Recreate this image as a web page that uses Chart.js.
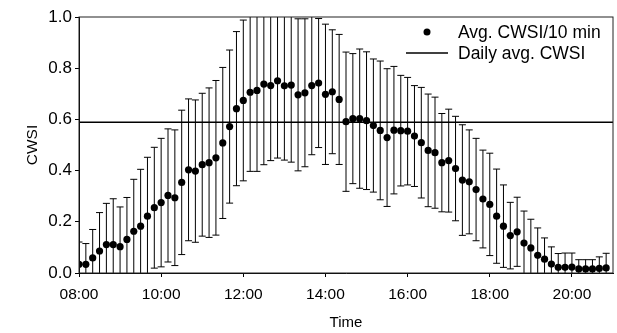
<!DOCTYPE html>
<html>
<head>
<meta charset="utf-8">
<script src="https://cdn.jsdelivr.net/npm/chart.js@4.4.1/dist/chart.umd.min.js"></script>
<style>
  html, body { margin: 0; padding: 0; background: #fff; }
  #wrap { width: 617px; height: 333px; }
</style>
</head>
<body>
<div id="wrap"><canvas id="cwsi" width="617" height="333"></canvas></div>
<script>
// ---- Data ----
const times = [
  '08:00','08:10','08:20','08:30','08:40','08:50','09:00','09:10','09:20','09:30',
  '09:40','09:50','10:00','10:10','10:20','10:30','10:40','10:50','11:00','11:10',
  '11:20','11:30','11:40','11:50','12:00','12:10','12:20','12:30','12:40','12:50',
  '13:00','13:10','13:20','13:30','13:40','13:50','14:00','14:10','14:20','14:30',
  '14:40','14:50','15:00','15:10','15:20','15:30','15:40','15:50','16:00','16:10',
  '16:20','16:30','16:40','16:50','17:00','17:10','17:20','17:30','17:40','17:50',
  '18:00','18:10','18:20','18:30','18:40','18:50','19:00','19:10','19:20','19:30',
  '19:40','19:50','20:00','20:10','20:20','20:30','20:40','20:50'
];
const cwsiMean = [
  0.034,0.034,0.059,0.086,0.111,0.111,0.103,0.131,0.163,0.183,
  0.222,0.255,0.275,0.303,0.294,0.354,0.403,0.398,0.423,0.431,
  0.450,0.508,0.572,0.642,0.674,0.706,0.713,0.738,0.732,0.751,
  0.731,0.734,0.696,0.704,0.732,0.742,0.698,0.708,0.678,0.591,
  0.603,0.603,0.595,0.576,0.557,0.529,0.558,0.556,0.554,0.535,
  0.509,0.479,0.470,0.431,0.439,0.408,0.363,0.356,0.326,0.289,
  0.268,0.222,0.183,0.146,0.161,0.117,0.098,0.069,0.054,0.035,
  0.022,0.022,0.023,0.016,0.016,0.016,0.018,0.020
];
const cwsiErr = [
  0.087,0.081,0.111,0.150,0.161,0.179,0.155,0.164,0.203,0.222,
  0.230,0.236,0.251,0.260,0.265,0.282,0.277,0.278,0.279,0.292,
  0.302,0.295,0.299,0.301,0.314,0.309,0.316,0.315,0.293,0.302,
  0.290,0.301,0.297,0.289,0.270,0.252,0.274,0.242,0.254,0.272,
  0.254,0.272,0.269,0.260,0.271,0.269,0.249,0.216,0.210,0.197,
  0.216,0.220,0.217,0.192,0.201,0.204,0.216,0.203,0.200,0.191,
  0.200,0.184,0.161,0.130,0.135,0.125,0.112,0.107,0.083,0.067,
  0.054,0.056,0.055,0.036,0.036,0.036,0.045,0.057
];
const dailyAvg = [0.589];
const xRange = ['08:00', '21:00'];
const xTickLabels = ['08:00', '10:00', '12:00', '14:00', '16:00', '18:00', '20:00'];
const yTicks = [0.0, 0.2, 0.4, 0.6, 0.8, 1.0];

(function() {
  const FONT = "'Liberation Sans', Arial, sans-serif";
  const toMin = t => { const p = t.split(':'); return (+p[0]) * 60 + (+p[1]); };
  const fmt = m => String(Math.floor(m / 60)).padStart(2, '0') + ':' + String(m % 60).padStart(2, '0');

  const xMin = toMin(xRange[0]);
  const xMax = toMin(xRange[1]);

  const points = times.map((t, i) => ({ x: toMin(t), y: cwsiMean[i], e: cwsiErr[i] }));

  // ---- Error bars, clipped to plot area ----
  const errorBars = {
    id: 'errorBars',
    beforeDatasetsDraw(chart) {
      const { ctx, chartArea, scales: { x, y } } = chart;
      ctx.save();
      ctx.beginPath();
      ctx.rect(chartArea.left, chartArea.top, chartArea.right - chartArea.left, chartArea.bottom - chartArea.top);
      ctx.clip();
      ctx.strokeStyle = '#000';
      ctx.lineWidth = 1;
      const cap = 3.5;
      points.forEach(p => {
        const px = x.getPixelForValue(p.x);
        const yHi = y.getPixelForValue(p.y + p.e);
        const yLo = y.getPixelForValue(p.y - p.e);
        ctx.beginPath();
        ctx.moveTo(px, yHi); ctx.lineTo(px, yLo);
        ctx.moveTo(px - cap, yHi); ctx.lineTo(px + cap, yHi);
        ctx.moveTo(px - cap, yLo); ctx.lineTo(px + cap, yLo);
        ctx.stroke();
      });
      ctx.restore();
    }
  };

  // ---- Frame + legend inside plot ----
  const frameLegend = {
    id: 'frameLegend',
    afterDraw(chart) {
      const { ctx, chartArea: a } = chart;
      ctx.save();
      ctx.strokeStyle = '#222';
      ctx.lineWidth = 1;
      ctx.strokeRect(a.left, a.top, a.right - a.left, a.bottom - a.top);

      const ds = chart.data.datasets;
      const lx = a.right - 186;
      const tx = a.right - 155;
      const y1 = a.top + 15;
      const y2 = a.top + 36;
      ctx.fillStyle = '#000';
      ctx.beginPath();
      ctx.arc(lx, y1, 3.5, 0, Math.PI * 2);
      ctx.fill();
      ctx.beginPath();
      ctx.moveTo(a.right - 207, y2);
      ctx.lineTo(a.right - 165, y2);
      ctx.strokeStyle = '#000';
      ctx.lineWidth = 1.5;
      ctx.stroke();
      ctx.font = '17.5px ' + FONT;
      ctx.textBaseline = 'middle';
      ctx.fillText(ds[0].label, tx, y1 + 1);
      ctx.fillText(ds[1].label, tx, y2 + 1);
      ctx.restore();
    }
  };

  const ctx = document.getElementById('cwsi').getContext('2d');
  new Chart(ctx, {
    type: 'scatter',
    data: {
      datasets: [
        {
          label: 'Avg. CWSI/10 min',
          data: points,
          pointRadius: 3.6,
          pointBackgroundColor: '#000',
          pointBorderWidth: 0,
          showLine: false
        },
        {
          label: 'Daily avg. CWSI',
          type: 'line',
          data: [{ x: xMin, y: dailyAvg[0] }, { x: xMax, y: dailyAvg[0] }],
          borderColor: '#000',
          borderWidth: 1.5,
          pointRadius: 0
        }
      ]
    },
    options: {
      responsive: false,
      animation: false,
      devicePixelRatio: 1,
      layout: { padding: { top: 17, right: 3, left: 0, bottom: 0 } },
      plugins: { legend: { display: false }, tooltip: { enabled: false } },
      scales: {
        x: {
          type: 'linear',
          min: xMin,
          max: xMax,
          afterFit: s => { s.height = 60; },
          afterBuildTicks: s => {
            const t = [];
            for (let m = xMin; m <= xMax; m += 60) t.push({ value: m });
            s.ticks = t;
          },
          ticks: {
            font: { family: FONT, size: 15.5 },
            color: '#000',
            padding: 8,
            maxRotation: 0,
            callback: v => xTickLabels.includes(fmt(v)) ? fmt(v) : ''
          },
          grid: { drawOnChartArea: false, drawTicks: true, tickLength: 4, color: '#000' },
          border: { color: '#000' },
          title: { display: true, text: 'Time', font: { family: FONT, size: 15 }, color: '#000', padding: { top: 0, bottom: 1 } }
        },
        y: {
          min: 0,
          max: 1,
          afterFit: s => { s.width = 79; },
          afterBuildTicks: s => { s.ticks = yTicks.map(v => ({ value: v })); },
          ticks: {
            font: { family: FONT, size: 17 },
            color: '#000',
            padding: 3,
            callback: v => v.toFixed(1)
          },
          grid: { drawOnChartArea: false, drawTicks: true, tickLength: 4, color: '#000' },
          border: { color: '#000' },
          title: { display: true, text: 'CWSI', font: { family: FONT, size: 15.5 }, color: '#000', padding: { top: 23, bottom: 0 } }
        }
      }
    },
    plugins: [errorBars, frameLegend]
  });
})();
</script>
</body>
</html>
